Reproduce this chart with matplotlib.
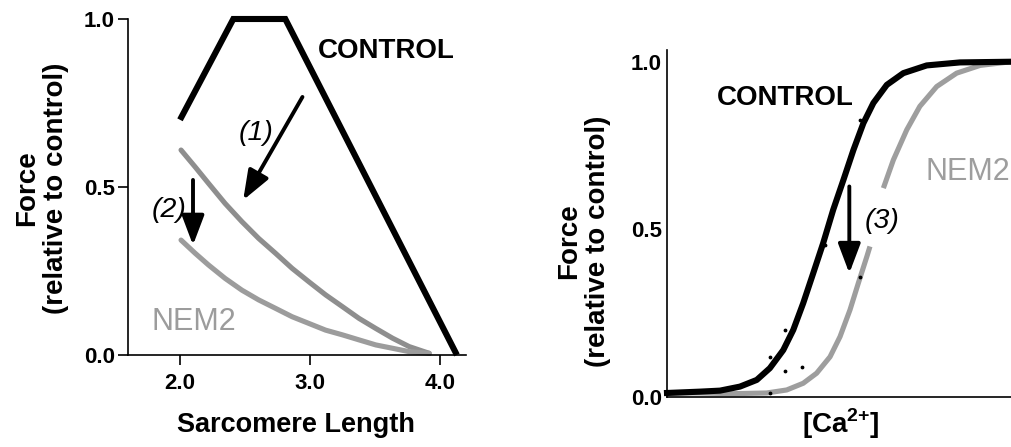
import matplotlib
matplotlib.use("Agg")
import matplotlib.pyplot as plt
import numpy as np

# left panel: force vs sarcomere length
control_sl = [2.0, 2.41, 2.81, 4.13]
control_f = [0.70, 1.0, 1.0, 0.0]

nem2_sl = [2.008, 2.116, 2.219, 2.347, 2.476, 2.605, 2.734, 2.862, 2.991,
           3.12, 3.249, 3.377, 3.506, 3.635, 3.763, 3.917]
nem2_hi_f = [0.610, 0.560, 0.511, 0.451, 0.397, 0.347, 0.303, 0.258, 0.218,
             0.179, 0.144, 0.109, 0.079, 0.050, 0.025, 0.005]
nem2_lo_f = [0.342, 0.303, 0.268, 0.228, 0.193, 0.164, 0.139, 0.114, 0.094,
             0.074, 0.060, 0.045, 0.030, 0.020, 0.010, 0.005]

sl_ticks = [2.0, 3.0, 4.0]
sl_ticklabels = ['2.0', '3.0', '4.0']
f_ticks = [0.0, 0.5, 1.0]
f_ticklabels = ['0.0', '0.5', '1.0']

# right panel: force vs [Ca2+] (arbitrary x scale 0..1)
ctrl_ca = [0.0, 0.096, 0.154, 0.212, 0.261, 0.299, 0.338, 0.367, 0.396, 0.425,
           0.454, 0.483, 0.513, 0.542, 0.571, 0.600, 0.639, 0.687, 0.755, 0.852, 1.0]
ctrl_ca_f = [0.012, 0.016, 0.019, 0.031, 0.051, 0.086, 0.140, 0.200, 0.280, 0.369,
             0.459, 0.558, 0.648, 0.737, 0.817, 0.877, 0.931, 0.966, 0.989, 0.998, 1.0]
nem2_ca = [0.0, 0.096, 0.193, 0.29, 0.348, 0.396, 0.435, 0.474, 0.503, 0.532,
           0.556, 0.581, 0.590, np.nan,
           0.629, 0.658, 0.697, 0.735, 0.784, 0.842, 0.910, 1.0]
nem2_ca_f = [0.012, 0.012, 0.010, 0.012, 0.021, 0.041, 0.071, 0.120, 0.180, 0.260,
             0.339, 0.419, 0.449, np.nan,
             0.623, 0.707, 0.797, 0.867, 0.926, 0.966, 0.989, 1.0]
dots_ca = [0.561, 0.459, 0.343, 0.299, 0.343, 0.392, 0.299, 0.561]
dots_f = [0.827, 0.454, 0.200, 0.120, 0.078, 0.090, 0.012, 0.358]

plt.rcParams['font.family'] = ['Liberation Sans', 'DejaVu Sans']
plt.rcParams['font.weight'] = 'bold'
plt.rcParams['mathtext.fontset'] = 'custom'
plt.rcParams['mathtext.rm'] = 'Liberation Sans:bold'
plt.rcParams['mathtext.bf'] = 'Liberation Sans:bold'

W, H = 1011, 447
fig = plt.figure(figsize=(W / 100, H / 100), dpi=100)

grey_hi = '#8e8e8e'
grey_lo = '#9c9c9c'
grey_ca = '#9e9e9e'


def arrow(ax, tail, tip):
    ax.annotate('', xy=tip, xytext=tail,
                arrowprops=dict(arrowstyle='-|>,head_length=18,head_width=6.8',
                                mutation_scale=1, lw=2.8, color='black',
                                shrinkA=0, shrinkB=0))


# ---------- left ----------
ax1 = fig.add_axes([128 / W, (H - 355) / H, (466 - 128) / W, 336 / H])
ax1.plot(nem2_sl, nem2_hi_f, color=grey_hi, lw=3.7, solid_capstyle='round', clip_on=False)
ax1.plot(nem2_sl, nem2_lo_f, color=grey_lo, lw=3.7, solid_capstyle='round', clip_on=False)
ax1.plot(control_sl, control_f, color='black', lw=4.4, solid_capstyle='butt',
         solid_joinstyle='miter', clip_on=False)
ax1.set_xlim(1.6, 4.2)
ax1.set_ylim(0, 1.0)
ax1.set_xticks(sl_ticks)
ax1.set_xticklabels(sl_ticklabels)
ax1.set_yticks(f_ticks)
ax1.set_yticklabels(f_ticklabels)

arrow(ax1, (2.942, 0.768), (2.486, 0.461))
arrow(ax1, (2.10, 0.521), (2.10, 0.327))
ax1.text(3.06, 0.883, 'CONTROL', fontsize=20, va='baseline', ha='left')
ax1.text(1.784, 0.0744, 'NEM2', fontsize=22, weight='normal', color=grey_lo, va='baseline')
ax1.text(2.585, 0.64, '(1)', fontsize=20.5, weight='normal', style='italic',
         ha='center', va='baseline')
ax1.text(1.915, 0.412, '(2)', fontsize=20.5, weight='normal', style='italic',
         ha='center', va='baseline')

# ---------- right ----------
ax2 = fig.add_axes([667 / W, (H - 397) / H, (W - 667) / W, 347 / H])
ax2.plot(nem2_ca, nem2_ca_f, color=grey_ca, lw=3.7, solid_capstyle='butt', clip_on=False)
ax2.plot(ctrl_ca, ctrl_ca_f, color='black', lw=4.4, clip_on=False)
ax2.scatter(dots_ca, dots_f, s=3, color='black', zorder=5)
ax2.set_xlim(0, 1)
ax2.set_ylim(0, 1.035)
ax2.set_xticks([])
ax2.set_yticks(f_ticks)
ax2.set_yticklabels(f_ticklabels)
ax2.tick_params(axis='y', length=0, pad=3.6)

arrow(ax2, (0.530, 0.628), (0.530, 0.369))
ax2.text(0.1445, 0.872, 'CONTROL', fontsize=20, va='baseline', ha='left')
ax2.text(0.75, 0.648, 'NEM2', fontsize=22, weight='normal', color=grey_ca,
         va='baseline', clip_on=False)
ax2.text(0.5756, 0.5036, '(3)', fontsize=20.5, weight='normal', style='italic',
         ha='left', va='baseline')

for ax in (ax1, ax2):
    for s in ('top', 'right'):
        ax.spines[s].set_visible(False)
    for s in ('left', 'bottom'):
        ax.spines[s].set_linewidth(1.2)
    ax.tick_params(labelsize=16, width=1.2)
ax1.tick_params(length=7, pad=2.5)
ax1.tick_params(axis='x', pad=6)

# axis labels
fig.text(41.5 / W, (H - 188) / H, 'Force\n(relative to control)', rotation=90,
         ha='center', va='center', fontsize=20, multialignment='center', linespacing=1.15)
fig.text(583.5 / W, (H - 241) / H, 'Force\n(relative to control)', rotation=90,
         ha='center', va='center', fontsize=20, multialignment='center', linespacing=1.15)
fig.text(296 / W, (H - 432) / H, 'Sarcomere Length', ha='center', va='baseline', fontsize=19.5)
fig.text(841 / W, (H - 433) / H, r'[Ca$^{\mathbf{2}\mathbf{+}}$]', ha='center',
         va='baseline', fontsize=20)

fig.savefig('out.png', dpi=100)
